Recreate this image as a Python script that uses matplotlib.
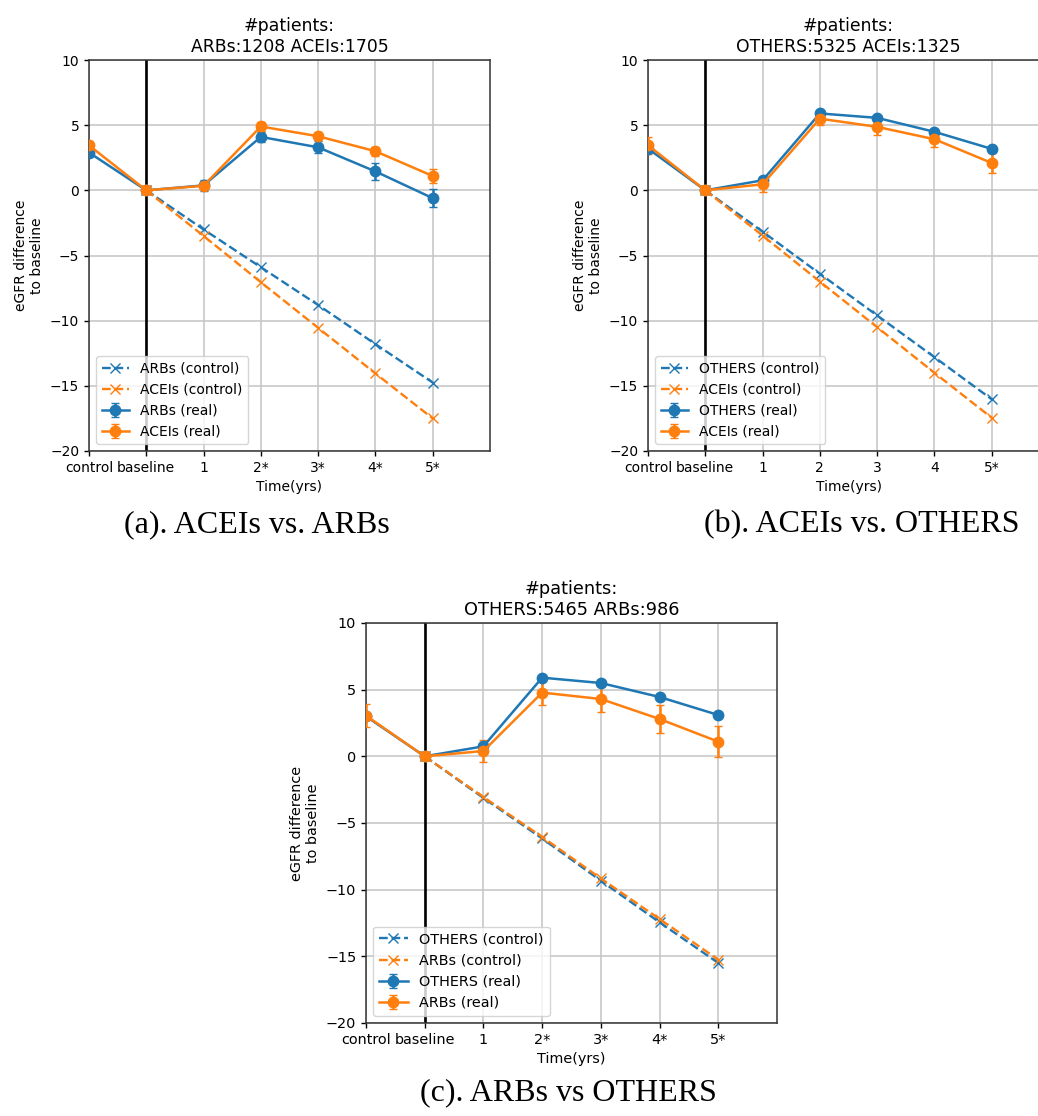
import matplotlib
matplotlib.use("Agg")
import matplotlib.pyplot as plt
import numpy as np

# ---------------- data ----------------
labels_a = ["control", "baseline", "1", "2*", "3*", "4*", "5*"]
labels_b = ["control", "baseline", "1", "2", "3", "4", "5*"]
labels_c = ["control", "baseline", "1", "2*", "3*", "4*", "5*"]

# panel (a): ARBs vs ACEIs
a_title = "#patients:\nARBs:1208 ACEIs:1705"
a_names = ["ARBs", "ACEIs"]
a_ctrl_1 = [0, -3.0, -5.9, -8.8, -11.8, -14.75]
a_ctrl_2 = [0, -3.5, -7.05, -10.55, -14.05, -17.5]
a_real_1 = [2.9, 0, 0.38, 4.1, 3.3, 1.45, -0.6]
a_err_1 = [0.35, 0.05, 0.45, 0.4, 0.45, 0.64, 0.68]
a_real_2 = [3.45, 0, 0.35, 4.9, 4.15, 3.0, 1.1]
a_err_2 = [0.3, 0.05, 0.25, 0.38, 0.3, 0.35, 0.5]

# panel (b): OTHERS vs ACEIs
b_title = "#patients:\nOTHERS:5325 ACEIs:1325"
b_names = ["OTHERS", "ACEIs"]
b_ctrl_1 = [0, -3.17, -6.4, -9.6, -12.8, -16.03]
b_ctrl_2 = [0, -3.47, -7.0, -10.5, -14.0, -17.45]
b_real_1 = [3.2, 0, 0.77, 5.9, 5.56, 4.49, 3.18]
b_err_1 = [0.15, 0.05, 0.15, 0.15, 0.15, 0.15, 0.15]
b_real_2 = [3.46, 0, 0.46, 5.5, 4.87, 3.92, 2.1]
b_err_2 = [0.64, 0.05, 0.55, 0.5, 0.6, 0.6, 0.75]

# panel (c): OTHERS vs ARBs
c_title = "#patients:\nOTHERS:5465 ARBs:986"
c_names = ["OTHERS", "ARBs"]
c_ctrl_1 = [0, -3.12, -6.16, -9.33, -12.45, -15.5]
c_ctrl_2 = [0, -3.05, -6.04, -9.16, -12.2, -15.25]
c_real_1 = [3.0, 0, 0.75, 5.9, 5.5, 4.45, 3.1]
c_err_1 = [0.15, 0.05, 0.15, 0.15, 0.15, 0.15, 0.15]
c_real_2 = [3.05, 0, 0.4, 4.78, 4.3, 2.8, 1.1]
c_err_2 = [0.85, 0.05, 0.8, 0.9, 0.95, 1.05, 1.15]

captions = ["(a). ACEIs vs. ARBs", "(b). ACEIs vs. OTHERS", "(c). ARBs vs OTHERS"]

# ---------------- figure ----------------
W, H = 1038, 1116
fig = plt.figure(figsize=(W / 100, H / 100), dpi=100)

BLUE = "#1f77b4"
ORANGE = "#ff7f0e"


def make_axes(left, top, right, bottom):
    return fig.add_axes([left / W, 1 - bottom / H, (right - left) / W, (bottom - top) / H])


def draw(ax, labels, title, names, ctrl1, ctrl2, real1, err1, real2, err2, fs=10, tfs=12.4):
    x_all = np.arange(len(labels))
    x_ctrl = x_all[1:]
    ax.grid(True, color="#c4c4c4", linewidth=1.1, zorder=0)
    ax.set_axisbelow(True)
    ax.axvline(1, color="black", linewidth=1.9, zorder=1)
    ax.plot(x_ctrl, ctrl1, linestyle="--", marker="x", color=BLUE,
            markersize=7.5, linewidth=1.7, label=f"{names[0]} (control)", zorder=3)
    ax.plot(x_ctrl, ctrl2, linestyle="--", marker="x", color=ORANGE,
            markersize=7.5, linewidth=1.7, label=f"{names[1]} (control)", zorder=3)
    ax.errorbar(x_all, real1, yerr=err1, marker="o", color=BLUE, markersize=7.5,
                linewidth=1.8, capsize=3, label=f"{names[0]} (real)", zorder=4)
    ax.errorbar(x_all, real2, yerr=err2, marker="o", color=ORANGE, markersize=7.5,
                linewidth=1.8, capsize=3, label=f"{names[1]} (real)", zorder=4)
    ax.set_xlim(0, 7)
    ax.set_ylim(-20, 10)
    ax.set_xticks(x_all)
    ax.set_xticklabels(labels)
    ax.set_yticks([-20, -15, -10, -5, 0, 5, 10])
    ax.set_xlabel("Time(yrs)", fontsize=fs)
    ax.set_ylabel("eGFR difference\nto baseline", fontsize=fs)
    ax.set_title(title, fontsize=tfs)
    ax.tick_params(labelsize=fs, width=1.0)
    for s in ax.spines.values():
        s.set_color("#333333")
        s.set_linewidth(1.1)
    ax.legend(loc="lower left", fontsize=fs)


ax_a = make_axes(89, 60, 490, 451)
draw(ax_a, labels_a, a_title, a_names, a_ctrl_1, a_ctrl_2, a_real_1, a_err_1, a_real_2, a_err_2)

ax_b = make_axes(648, 60, 1049, 451)
draw(ax_b, labels_b, b_title, b_names, b_ctrl_1, b_ctrl_2, b_real_1, b_err_1, b_real_2, b_err_2)

ax_c = make_axes(366, 623, 777, 1023)
draw(ax_c, labels_c, c_title, c_names, c_ctrl_1, c_ctrl_2, c_real_1, c_err_1, c_real_2, c_err_2,
     fs=10.4, tfs=12.8)

serif = ["Liberation Serif", "DejaVu Serif"]
fig.text(257 / W, 1 - 525 / H, captions[0], ha="center", va="center", fontsize=23, family=serif)
fig.text(862 / W, 1 - 525 / H, captions[1], ha="center", va="center", fontsize=23, family=serif)
fig.text(568 / W, 1 - 1093 / H, captions[2], ha="center", va="center", fontsize=23, family=serif)

fig.savefig("out.png", dpi=100)
